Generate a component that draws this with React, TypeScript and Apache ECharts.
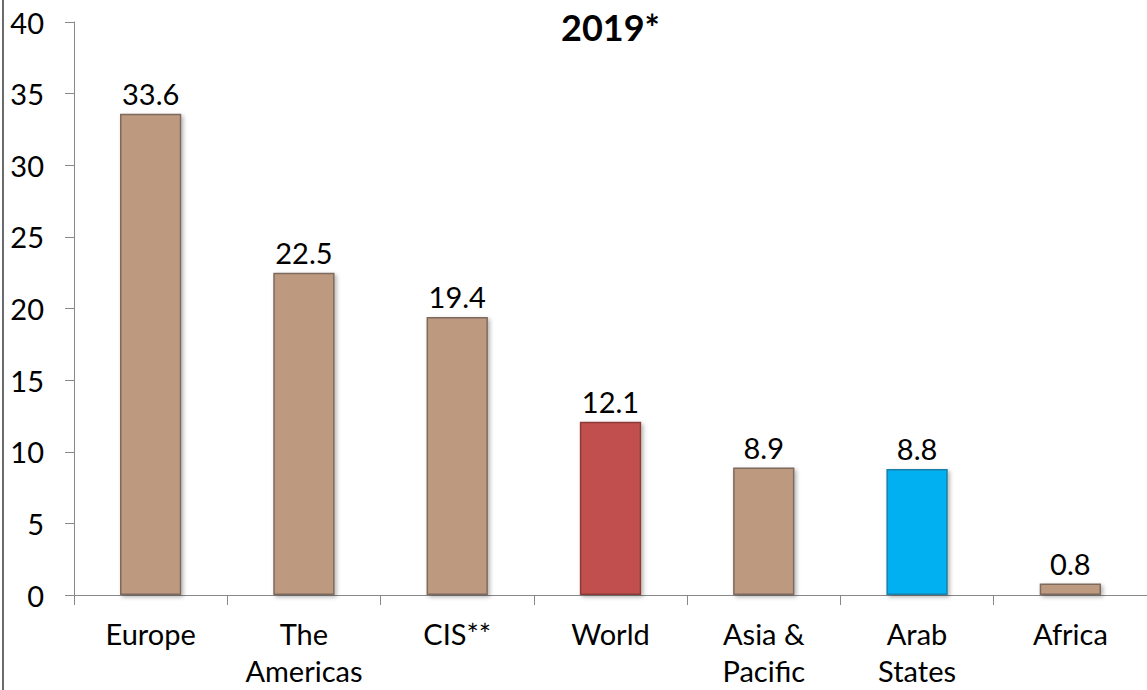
import React, { useEffect, useRef } from "react";
import * as echarts from "echarts";

const categories = ["Europe", "The\nAmericas", "CIS**", "World", "Asia &\nPacific", "Arab\nStates", "Africa"];
const values = [33.6, 22.5, 19.4, 12.1, 8.9, 8.8, 0.8];
const yTicks = { min: 0, max: 40, interval: 5 };
const titleText = "2019*";

const FONT = "Lato, 'Noto Sans', sans-serif";

export default function App() {
  const ref = useRef<HTMLDivElement>(null);
  useEffect(() => {
    if (!ref.current) return;
    const chart = echarts.init(ref.current, null, { renderer: "svg" });
    const colorFor = (name: string) =>
      name === "World" ? "#C0504D" : name === "Arab\nStates" ? "#00B0F0" : "#BD9980";
    const borderFor = (name: string) =>
      name === "World" ? "#8C3A38" : name === "Arab\nStates" ? "#1A7FA8" : "#7E6A5C";
    chart.setOption({
      animation: false,
      backgroundColor: "#ffffff",
      title: {
        text: titleText,
        left: 556,
        top: 4,
        textStyle: { fontFamily: FONT, fontSize: 36, fontWeight: "bold", color: "#000" },
      },
      grid: { left: 74, right: 0, top: 22, bottom: 95, containLabel: false },
      xAxis: {
        type: "category",
        data: categories,
        axisLine: { show: true, lineStyle: { color: "#888888", width: 1 } },
        axisTick: { show: true, length: 10, lineStyle: { color: "#888888" } },
        axisLabel: {
          margin: 20,
          fontFamily: FONT,
          fontSize: 29,
          lineHeight: 37,
          color: "#000",
          interval: 0,
        },
      },
      yAxis: {
        type: "value",
        min: yTicks.min,
        max: yTicks.max,
        interval: yTicks.interval,
        splitLine: { show: false },
        axisLine: { show: true, lineStyle: { color: "#888888", width: 1 } },
        axisTick: { show: true, length: 9, lineStyle: { color: "#888888" } },
        axisLabel: { margin: 30, fontFamily: FONT, fontSize: 29, color: "#000" },
      },
      series: [
        {
          type: "bar",
          barWidth: "40%",
          data: values.map((v, i) => ({
            value: v,
            itemStyle: {
              color: colorFor(categories[i]),
              borderColor: borderFor(categories[i]),
              borderWidth: 1.5,
              shadowBlur: 4,
              shadowOffsetX: 2,
              shadowOffsetY: 2,
              shadowColor: "rgba(0,0,0,0.3)",
            },
          })),
          label: {
            show: true,
            position: "top",
            distance: 6,
            fontFamily: FONT,
            fontSize: 29,
            color: "#000",
            formatter: (p: any) => p.value.toFixed(1),
          },
        },
      ],
      graphic: [
        {
          type: "line",
          shape: { x1: 3, y1: 0, x2: 3, y2: 690 },
          style: { stroke: "#6b6b6b", lineWidth: 2 },
        },
      ],
    });
    return () => chart.dispose();
  }, []);
  return <div ref={ref} style={{ position: "fixed", left: 0, top: 0, width: 1147, height: 690 }} />;
}
